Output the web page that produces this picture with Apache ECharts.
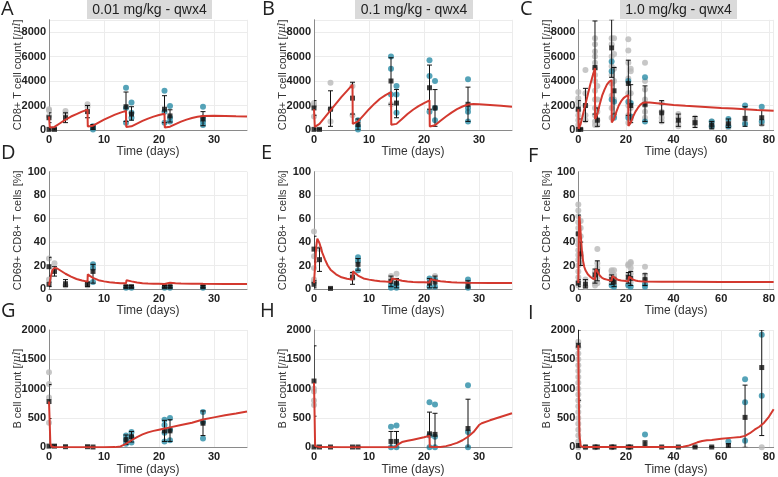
<!DOCTYPE html>
<html><head><meta charset="utf-8">
<script src="https://cdn.jsdelivr.net/npm/echarts@6/dist/echarts.min.js"></script>
<style>html,body{margin:0;padding:0;background:#fff}#c{width:778px;height:477px}</style>
</head><body><div id="c"></div>
<script>
// ---------------- DATA ----------------
const panelLetters = ['A','B','C','D','E','F','G','H','I'];
const doseTitles = ['0.01 mg/kg - qwx4','0.1 mg/kg - qwx4','1.0 mg/kg - qwx4'];
const xMaxByCol = [36, 36, 82];
const xIntervalByCol = [10, 10, 20];
const yMaxByRow = [9000, 100, 2000];
const yIntervalByRow = [2000, 20, 500];
const yNames = ['CD8+ T cell count [/{i|μl}]', 'CD69+ CD8+ T cells [%]', 'B cell count [/{i|μl}]'];
const xName = 'Time (days)';

// Panel A: CD8+ count, 0.01 mg/kg
const grayA = [[0,1700],[0,1600],[0,1150],[3,1550],[3,1300],[7,2100],[7,1900],[8,200]];
const tealA = [[8,50],[8,300],[14,3450],[14,1800],[14,600],[15,2250],[15,1400],[15,1000],[21,3200],[21,1500],[21,600],[22,1950],[22,1000],[22,700],[28,1900],[28,1000],[28,700],[28,400]];
const meanA = [[0,1000,600,1400],[0,50,0,100],[1,50,0,100],[3,1000,600,1400],[7,1500,1000,2000],[8,250,50,450],[14,1900,700,3100],[15,1300,800,1900],[21,1700,600,2800],[22,1150,650,1650],[28,900,350,1500]];
const modelA = [[0,1100],[0.15,200],[0.5,150],[1,250],[2,550],[3,850],[4,1100],[5,1300],[6,1500],[7,1650],[7.05,280],[8,350],[9,600],[10,850],[11,1050],[12,1250],[13,1420],[14,1560],[14.05,240],[15,300],[16,520],[17,740],[18,930],[19,1090],[20,1220],[21,1320],[21.05,200],[22,270],[23,480],[24,680],[25,850],[26,980],[27,1080],[28,1150],[30,1160],[32,1140],[34,1120],[36,1110]];

// Panel B: CD8+ count, 0.1 mg/kg
const grayB = [[0,2200],[0,2000],[0,1100],[3,3850],[3,1700],[3,700],[7,3600],[7,1200],[14,2100]];
const tealB = [[8,800],[8,300],[8,50],[14,6000],[14,5000],[14,2900],[15,3600],[15,2900],[15,1400],[21,5700],[21,4400],[21,1500],[22,4000],[22,1800],[22,800],[28,4150],[28,1800],[28,1500],[28,700]];
const meanB = [[0,1800,1200,2400],[0,50,0,100],[1,50,0,100],[3,1700,300,3200],[7,2600,1300,3900],[8,450,0,900],[14,4000,2100,5900],[15,2200,1000,3300],[21,3450,1700,5300],[22,1800,300,3300],[28,2100,700,3500]];
const modelB = [[0,1700],[0.15,250],[0.5,250],[1,500],[2,1050],[3,1600],[4,2150],[5,2700],[6,3200],[7,3700],[7.05,500],[8,700],[9,1200],[10,1700],[11,2150],[12,2550],[13,2850],[14,3100],[14.05,420],[15,500],[16,900],[17,1300],[18,1650],[19,1950],[20,2200],[21,2420],[21.05,280],[22,380],[23,750],[24,1100],[25,1420],[26,1700],[27,1920],[28,2080],[29,2120],[30,2100],[32,2050],[34,1980],[36,1900]];

// Panel C: CD8+ count, 1.0 mg/kg
const grayC = [[0,3100],[0,2600],[0,2300],[0,2000],[0,1600],[0,1200],[0,800],[0,400],[3,4900],[3,3000],[3,2000],[3,1200],[3,800],
 [7,7500],[7,7000],[7,6400],[7,6000],[7,5500],[7,5000],[7,4500],[7,4000],[7,3200],[7,2500],[7,1800],[7,1200],[7,700],[7,400],
 [8,3600],[8,2500],[8,1500],[8,800],[8,400],[14,7500],[14,7000],[14,6000],[14,5200],[14,4500],[14,3800],[14,2800],[14,1800],[14,1000],
 [15,7500],[15,6200],[15,5000],[15,4000],[15,2500],[15,1200],[21,7400],[21,6500],[21,5500],[21,4200],[21,3000],[21,2000],[21,1200],[21,600],
 [22,5000],[22,4800],[22,3000],[22,1800],[22,900],[28,5500],[28,4000],[28,3300],[28,2500],[28,2000],[28,1500],[28,1000],
 [35,2200],[35,1500],[35,1000],[35,700],[42,1300],[42,1000],[42,600],[42,300],[49,1000],[49,700],[49,400],[56,700],[56,400],[56,200],[63,700],[63,500],[63,200],[70,600],[77,500]];
const tealC = [[14,5600],[14,4800],[14,2500],[15,2300],[15,1000],[21,4000],[21,2300],[21,1000],[22,2200],[22,1100],[28,4300],[28,700],[56,300],[56,700],[63,900],[63,300],[70,2000],[70,500],[77,1900],[77,700]];
const meanC = [[0,1700,900,2400],[0,50,0,100],[1,50,0,100],[3,2000,700,3400],[7,5100,1300,8900],[8,800,300,1800],[14,6700,4300,9000],[15,3200,1300,5100],[21,3800,1200,5700],[22,2000,600,3700],[28,2100,700,3600],[35,1400,600,2400],[42,800,300,1300],[49,600,200,1100],[56,400,100,700],[63,500,200,900],[70,950,300,1900],[77,1000,400,1600]];
const modelC = [[0,1700],[0.15,100],[0.5,150],[1,500],[2,1300],[3,2100],[4,2900],[5,3700],[6,4400],[7,5050],[7.05,900],[8,1300],[9,2100],[10,2800],[11,3300],[12,3700],[13,3950],[14,4070],[14.05,620],[15,900],[16,1500],[17,2000],[18,2350],[19,2600],[20,2750],[21,2850],[21.05,330],[22,600],[23,1100],[24,1500],[25,1800],[26,2050],[27,2200],[28,2250],[30,2250],[35,2150],[40,2050],[45,1980],[50,1920],[55,1860],[60,1800],[65,1750],[70,1700],[75,1640],[82,1570]];

// Panel D: CD69+ %, 0.01 mg/kg
const grayD = [[0,8],[0,26],[1,22],[3,3],[7,3],[7,5]];
const tealD = [[8,21],[8,18],[8,6],[14,1],[15,1],[21,1],[22,1],[28,1]];
const meanD = [[0,19,11,27],[0,4,2,6],[1,15,11,19],[3,4.5,2,8],[7,4,2,6],[8,15,5,21],[14,2,1,3],[15,2,1,3],[21,2,1,3],[22,2,1,3],[28,2,1,3]];
const modelD = [[0,3],[0.3,10],[0.6,16],[1,18],[1.5,17.5],[2,16],[3,13],[4,10.5],[5,8.5],[6,7.2],[7,6.3],[7.05,12.5],[7.5,11],[8,9.5],[9,7.5],[10,6.5],[11,5.8],[12,5.3],[13,5],[14,4.8],[14.1,7.5],[15,6.5],[16,5.5],[17,5],[18,4.7],[19,4.5],[20,4.4],[21,4.3],[21.1,5.8],[22,5.4],[23,5],[24,4.7],[26,4.5],[28,4.4],[32,4.3],[36,4.3]];

// Panel E: CD69+ %, 0.1 mg/kg
const grayE = [[0,49],[0,28],[0,18],[0,8],[0,6],[1,34],[7,13],[7,9],[14,11],[14,8],[15,13],[22,11],[28,6]];
const tealE = [[8,27],[8,24],[8,16],[14,3],[14,1],[15,1],[15,4],[21,9],[21,2],[22,2],[22,8],[28,8],[28,1]];
const meanE = [[0,34,23,45],[0,4,1,7],[1,25,15,35],[3,0.5,0,1],[7,10,4,14],[8,21,16,26],[14,6.5,2,11],[15,5,1,9],[21,5,1,9],[22,6,1,11],[28,3,0,7]];
const modelE = [[0,5],[0.2,20],[0.4,36],[0.6,43],[0.8,42],[1,39],[1.5,31],[2,25],[2.5,20],[3,16.5],[4,12.5],[5,10],[6,8.8],[7,8],[7.1,15],[7.5,13.5],[8,11.5],[9,9],[10,8],[11,7.2],[12,6.7],[13,6.3],[14,6],[14.2,9],[15,8.2],[16,7],[17,6.4],[18,6],[19,5.8],[20,5.7],[21,5.6],[21.2,8.3],[22,7.5],[23,6.7],[24,6.2],[25,5.8],[26,5.6],[28,5.4],[32,5.2],[36,5.1]];

// Panel F: CD69+ %, 1.0 mg/kg
const grayF = [[0,72],[0,67],[0,62],[0,57],[0,52],[0,47],[0,42],[0,38],[0,33],[0,29],[0,25],[0,20],[0,15],[0,10],[0,6],[0,3],
 [1,58],[1,52],[1,45],[1,28],[1,22],[3,2],[3,8],[7,15],[7,10],[7,5],[7,3],[8,34],[8,22],[8,18],[8,10],[8,5],
 [14,16],[14,15],[14,12],[14,10],[14,5],[15,16],[15,12],[15,8],[15,4],[21,21],[21,20],[21,12],[21,8],[21,4],
 [22,23],[22,22],[22,18],[22,13],[22,6],[28,19],[28,12],[28,8],[28,4]];
const tealF = [[14,3],[15,2],[21,3],[22,2],[28,2],[28,4]];
const meanF = [[0,47,31,63],[0,5,2,8],[1,30,20,40],[3,4,1,8],[7,12,5,17],[8,15,7,24],[14,8,4,12],[15,6,2,10],[21,10,5,14],[22,9,3,15],[28,8,3,13]];
const modelF = [[0,5],[0.15,30],[0.35,60],[0.5,62],[0.7,57],[1,47],[1.5,33],[2,24],[2.5,19],[3,16],[4,12.5],[5,10.5],[6,9],[7,8.3],[7.1,15],[7.5,17],[8,15],[9,11.5],[10,9.5],[11,8.5],[12,8],[13,7.5],[14,7.2],[14.3,11],[15,10],[16,8.5],[17,7.6],[18,7.2],[19,7],[20,6.8],[21,6.7],[21.3,10.5],[22,9.5],[23,8],[24,7.2],[25,6.8],[26,6.6],[28,6.4],[35,6.2],[45,6.1],[60,6],[82,6]];

// Panel G: B cells, 0.01 mg/kg
const grayG = [[0,1280],[0,1080],[0,850],[0,420]];
const tealG = [[14,200],[14,60],[14,130],[15,260],[15,80],[15,170],[21,470],[21,380],[21,100],[21,250],[22,500],[22,120],[22,300],[28,600],[28,150],[28,430]];
const meanG = [[0,780,490,1070],[0,20,0,40],[1,20,0,40],[3,10,0,20],[7,10,0,20],[8,5,0,10],[14,130,50,210],[15,180,90,270],[21,280,100,460],[22,280,100,470],[28,410,200,620]];
const modelG = [[0,780],[0.1,500],[0.25,60],[0.5,10],[1,5],[5,2],[10,2],[12,3],[13,15],[14,60],[15,120],[16,175],[17,220],[18,255],[19,280],[20,300],[21,320],[22,340],[24,380],[26,420],[28,475],[30,510],[32,545],[34,575],[36,610]];

// Panel H: B cells, 0.1 mg/kg
const grayH = [[0,1000],[0,950],[0,800],[0,720]];
const tealH = [[14,350],[14,0],[15,370],[15,0],[21,770],[21,200],[21,0],[22,730],[22,180],[22,0],[28,1060],[28,260],[28,0]];
const meanH = [[0,1130,530,1730],[0,5,0,10],[1,5,0,10],[3,5,0,10],[7,5,0,10],[8,5,0,10],[14,100,0,270],[15,100,0,270],[21,230,0,600],[22,220,0,580],[28,320,0,820]];
const modelH = [[0,1100],[0.1,600],[0.2,20],[0.5,5],[1,3],[5,2],[10,2],[14,2],[14.8,5],[15.3,50],[16,90],[17,110],[18,130],[19,150],[20,170],[21,195],[21.05,10],[22,3],[23,5],[24,20],[25,45],[26,75],[27,120],[28,180],[29,260],[30,380],[30.5,410],[32,460],[34,520],[36,580]];

// Panel I: B cells, 1.0 mg/kg
const grayI = [[0,1800],[0,1700],[0,1600],[0,1500],[0,1400],[0,1300],[0,1200],[0,1100],[0,1000],[0,900],[0,800],[0,700],[0,600],[0,500],[0,400],[0,300],[0,200],[0,100],[0,0],[3,0],[7,0],[14,0],[21,0],[77,0]];
const tealI = [[28,220],[63,100],[70,1160],[70,770],[70,110],[77,1920],[77,880]];
const meanI = [[0,1740,800,2000],[0,30,0,60],[3,5,0,10],[7,5,0,10],[8,5,0,10],[14,5,0,10],[15,5,0,10],[21,5,0,10],[22,5,0,10],[28,60,0,110],[35,5,0,10],[42,5,0,10],[49,5,0,10],[56,5,0,10],[63,30,0,60],[70,510,0,1060],[77,1360,200,2000]];
const modelI = [[0,1740],[0.2,900],[0.5,200],[1,20],[2,5],[10,3],[20,3],[30,3],[40,5],[44,10],[46,25],[48,55],[50,85],[52,108],[54,120],[56,126],[60,145],[65,165],[68,175],[70,195],[72,240],[74,300],[76,350],[78,420],[80,520],[82,650]];

const panelData = [
  [grayA, tealA, meanA, modelA], [grayB, tealB, meanB, modelB], [grayC, tealC, meanC, modelC],
  [grayD, tealD, meanD, modelD], [grayE, tealE, meanE, modelE], [grayF, tealF, meanF, modelF],
  [grayG, tealG, meanG, modelG], [grayH, tealH, meanH, modelH], [grayI, tealI, meanI, modelI]
];

// ---------------- LAYOUT / STYLE ----------------
const colLeft = [49, 314, 578.3];
const plotWidth = 198;
const rowTop = [19.75, 171.7, 330];
const rowHeight = [110.25, 117.3, 117.3];
const GRAY = '#b9b9b9', TEAL = '#2a8ca6', RED = '#d3392f';
const FONT = 'Liberation Sans';

const grids = [], xAxes = [], yAxes = [], series = [];
for (let i = 0; i < 9; i++) {
  const r = Math.floor(i / 3), c = i % 3;
  grids.push({left: colLeft[c], top: rowTop[r], width: plotWidth, height: rowHeight[r]});
  xAxes.push({
    type: 'value', gridIndex: i, min: 0, max: xMaxByCol[c], interval: xIntervalByCol[c],
    name: xName, nameLocation: 'middle', nameGap: 16, nameMoveOverlap: false,
    nameTextStyle: {fontFamily: FONT, fontSize: 12, color: '#333'},
    axisLine: {show: true, lineStyle: {color: '#8a8a8a', width: 1}},
    axisTick: {show: false},
    axisLabel: {fontFamily: FONT, fontSize: 11, fontWeight: 'bold', color: '#222', margin: 4, showMaxLabel: false,
      formatter: v => String(v)},
    splitLine: {show: true, lineStyle: {color: '#ececec', width: 1}}
  });
  yAxes.push({
    type: 'value', gridIndex: i, min: 0, max: yMaxByRow[r], interval: yIntervalByRow[r],
    name: yNames[r], nameLocation: 'middle', nameGap: 26, nameMoveOverlap: false,
    nameTextStyle: {fontFamily: FONT, fontSize: 11, color: '#333',
      rich: {i: {fontFamily: 'DejaVu Serif', fontStyle: 'italic', fontSize: 11, color: '#333'}}},
    axisLine: {show: true, lineStyle: {color: '#8a8a8a', width: 1}},
    axisTick: {show: false},
    axisLabel: {fontFamily: FONT, fontSize: 11, fontWeight: 'bold', color: '#222', margin: 3, showMaxLabel: r !== 0,
      formatter: v => String(v)},
    splitLine: {show: true, lineStyle: {color: '#ececec', width: 1}}
  });
  const [gray, teal, mean, model] = panelData[i];
  series.push({type: 'scatter', xAxisIndex: i, yAxisIndex: i, data: gray, symbol: 'circle', symbolSize: 6,
    itemStyle: {color: GRAY}, z: 2, clip: true});
  series.push({type: 'scatter', xAxisIndex: i, yAxisIndex: i, data: teal, symbol: 'circle', symbolSize: 6,
    itemStyle: {color: TEAL}, z: 3, clip: true});
  series.push({type: 'custom', xAxisIndex: i, yAxisIndex: i, data: mean, encode: {x: 0, y: [1, 2, 3]}, z: 4, clip: true,
    renderItem: function (params, api) {
      const t = api.value(0);
      const lo = api.coord([t, api.value(2)]);
      const hi = api.coord([t, api.value(3)]);
      const cw = 2.5;
      const st = {stroke: '#111', lineWidth: 1, fill: null};
      return {type: 'group', children: [
        {type: 'line', shape: {x1: lo[0], y1: lo[1], x2: hi[0], y2: hi[1]}, style: st},
        {type: 'line', shape: {x1: hi[0] - cw, y1: hi[1], x2: hi[0] + cw, y2: hi[1]}, style: st},
        {type: 'line', shape: {x1: lo[0] - cw, y1: lo[1], x2: lo[0] + cw, y2: lo[1]}, style: st}
      ]};
    }});
  series.push({type: 'scatter', xAxisIndex: i, yAxisIndex: i, data: mean.map(d => [d[0], d[1]]), symbol: 'rect', symbolSize: 5,
    itemStyle: {color: '#111'}, z: 5, clip: true});
  series.push({type: 'line', xAxisIndex: i, yAxisIndex: i, data: model, showSymbol: false, symbol: 'none',
    lineStyle: {color: RED, width: 2}, z: 6, clip: true});
}

// panel letters and dose titles
const letterPos = [[1,-1],[262,-1],[520,-1],[1,143],[261,143],[528,146],[1,301],[260,301],[528,303]];
const graphics = [];
panelLetters.forEach((L, i) => {
  graphics.push({type: 'text', left: letterPos[i][0], top: letterPos[i][1],
    style: {text: L, fontFamily: 'Open Sans', fontSize: 20, fill: '#222'}});
});
const titleBoxes = [[87, 125], [355, 118], [620, 117]];
doseTitles.forEach((t, c) => {
  const [x, w] = titleBoxes[c];
  graphics.push({type: 'rect', shape: {x: x, y: 0, width: w, height: 19}, style: {fill: '#dadada'}, z: 0});
  graphics.push({type: 'text', x: x + w / 2, y: 10,
    style: {text: t, fontFamily: FONT, fontSize: 14, fill: '#222', textAlign: 'center', textVerticalAlign: 'middle'}, z: 1});
});

const chart = echarts.init(document.getElementById('c'), null, {renderer: 'canvas'});
chart.setOption({
  animation: false,
  backgroundColor: '#fff',
  grid: grids, xAxis: xAxes, yAxis: yAxes, series: series,
  graphic: graphics
});
</script></body></html>
